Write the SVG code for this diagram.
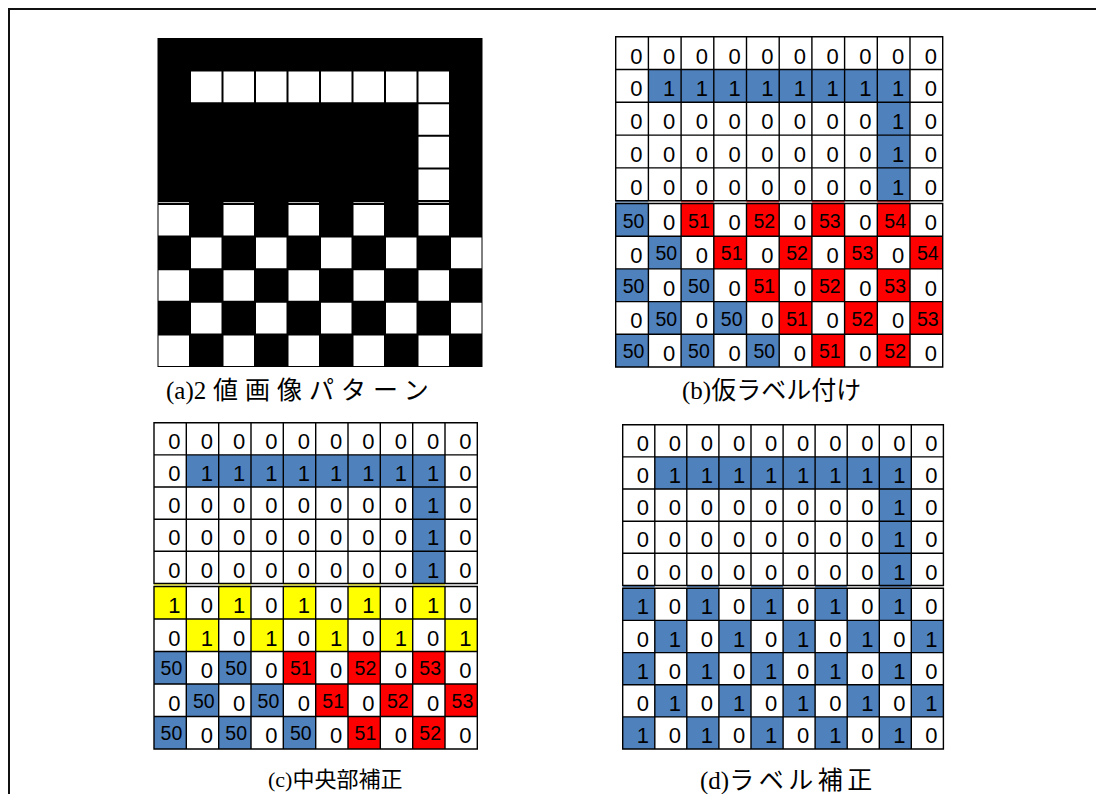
<svg xmlns="http://www.w3.org/2000/svg" width="1096" height="794" viewBox="0 0 1096 794">
<style>
.g{fill:none;stroke:#000;stroke-width:1.4;stroke-linecap:square}
.d{font-family:"Liberation Sans",Arial,sans-serif;font-size:22px;text-anchor:end;fill:#000}
.t{font-size:19.5px}
.b{fill:#4F81BD}.r{fill:#FF0000}.y{fill:#FFFF00}.w{fill:#fff}
.cap{font-family:"Liberation Serif","Noto Sans CJK JP",serif;font-size:25px;fill:#000}
</style>
<rect width="1096" height="794" fill="#fff"/>
<path d="M9 794V9H1096" fill="none" stroke="#111" stroke-width="2"/>

<g id="panel-a">
<rect x="157.5" y="38" width="325" height="329" fill="#000"/>
<path class="w" d="M191 71.6h30.5v30.6h-30.5zM223.5 71.6h30.5v30.6h-30.5zM256 71.6h30.5v30.6h-30.5zM288.5 71.6h30.5v30.6h-30.5zM321 71.6h30.5v30.6h-30.5zM353.5 71.6h30.5v30.6h-30.5zM386 71.6h30.5v30.6h-30.5zM418.5 71.6h30.5v30.6h-30.5z
M418.5 104.2h30.5v30.6h-30.5zM418.5 136.8h30.5v30.6h-30.5zM418.5 169.4h30.5v30.6h-30.5z
M158.5 205h30.5v30.6h-30.5zM223.5 205h30.5v30.6h-30.5zM288.5 205h30.5v30.6h-30.5zM353.5 205h30.5v30.6h-30.5zM418.5 205h30.5v30.6h-30.5z
M191 237.6h30.5v30.6h-30.5zM256 237.6h30.5v30.6h-30.5zM321 237.6h30.5v30.6h-30.5zM386 237.6h30.5v30.6h-30.5zM451 237.6h30.5v30.6h-30.5z
M158.5 270.2h30.5v30.6h-30.5zM223.5 270.2h30.5v30.6h-30.5zM288.5 270.2h30.5v30.6h-30.5zM353.5 270.2h30.5v30.6h-30.5zM418.5 270.2h30.5v30.6h-30.5z
M191 302.8h30.5v30.6h-30.5zM256 302.8h30.5v30.6h-30.5zM321 302.8h30.5v30.6h-30.5zM386 302.8h30.5v30.6h-30.5zM451 302.8h30.5v30.6h-30.5z
M158.5 335.4h30.5v30.6h-30.5zM223.5 335.4h30.5v30.6h-30.5zM288.5 335.4h30.5v30.6h-30.5zM353.5 335.4h30.5v30.6h-30.5zM418.5 335.4h30.5v30.6h-30.5z"/>
<path fill="#bbb" d="M158.5 202h30.5v1h-30.5zM223.5 202h30.5v1h-30.5zM288.5 202h30.5v1h-30.5zM353.5 202h30.5v1h-30.5zM418.5 202h30.5v1h-30.5z"/>
</g>

<g id="panel-b">
<rect x="615.7" y="36.7" width="327" height="330.3" fill="#fff"/>
<rect class="b" x="648.4" y="69.5" width="261.6" height="32.8"/>
<rect class="b" x="877.3" y="102.3" width="32.7" height="98.4"/>
<path class="b" d="M615.7 203.5h32.7v32.7h-32.7zM648.4 236.2h32.7v32.7h-32.7zM615.7 268.9h32.7v32.7h-32.7zM681.1 268.9h32.7v32.7h-32.7zM648.4 301.6h32.7v32.7h-32.7zM713.8 301.6h32.7v32.7h-32.7zM615.7 334.3h32.7v32.7h-32.7zM681.1 334.3h32.7v32.7h-32.7zM746.5 334.3h32.7v32.7h-32.7zM615.7 201.3h32.7v1.3h-32.7z"/>
<path class="r" d="M681.1 203.5h32.7v32.7h-32.7zM746.5 203.5h32.7v32.7h-32.7zM811.9 203.5h32.7v32.7h-32.7zM877.3 203.5h32.7v32.7h-32.7z
M713.8 236.2h32.7v32.7h-32.7zM779.2 236.2h32.7v32.7h-32.7zM844.6 236.2h32.7v32.7h-32.7zM910 236.2h32.7v32.7h-32.7z
M746.5 268.9h32.7v32.7h-32.7zM811.9 268.9h32.7v32.7h-32.7zM877.3 268.9h32.7v32.7h-32.7z
M779.2 301.6h32.7v32.7h-32.7zM844.6 301.6h32.7v32.7h-32.7zM910 301.6h32.7v32.7h-32.7z
M811.9 334.3h32.7v32.7h-32.7zM877.3 334.3h32.7v32.7h-32.7z
M681.1 201.3h32.7v1.3h-32.7zM746.5 201.3h32.7v1.3h-32.7zM811.9 201.3h32.7v1.3h-32.7zM877.3 201.3h32.7v1.3h-32.7z"/>
<path class="g" d="M615.7 36.7V200.7M648.4 36.7V200.7M681.1 36.7V200.7M713.8 36.7V200.7M746.5 36.7V200.7M779.2 36.7V200.7M811.9 36.7V200.7M844.6 36.7V200.7M877.3 36.7V200.7M910 36.7V200.7M942.7 36.7V200.7
M615.7 203.5V367M648.4 203.5V367M681.1 203.5V367M713.8 203.5V367M746.5 203.5V367M779.2 203.5V367M811.9 203.5V367M844.6 203.5V367M877.3 203.5V367M910 203.5V367M942.7 203.5V367
M615.7 36.7H942.7M615.7 69.5H942.7M615.7 102.3H942.7M615.7 135.1H942.7M615.7 167.9H942.7M615.7 200.7H942.7M615.7 203.5H942.7M615.7 236.2H942.7M615.7 268.9H942.7M615.7 301.6H942.7M615.7 334.3H942.7M615.7 367H942.7"/>
<text class="d" x="642.6 675.3 708 740.7 773.4 806.1 838.8 871.5 904.2 936.9" y="63.5">0000000000</text>
<text class="d" x="642.6 675.3 708 740.7 773.4 806.1 838.8 871.5 904.2 936.9" y="96.3">0111111110</text>
<text class="d" x="642.6 675.3 708 740.7 773.4 806.1 838.8 871.5 904.2 936.9" y="129.1">0000000010</text>
<text class="d" x="642.6 675.3 708 740.7 773.4 806.1 838.8 871.5 904.2 936.9" y="161.9">0000000010</text>
<text class="d" x="642.6 675.3 708 740.7 773.4 806.1 838.8 871.5 904.2 936.9" y="194.7">0000000010</text>
<text class="d"><tspan class="t" x="644.4" y="227.5">50</tspan><tspan x="675.3" y="230.2">0</tspan><tspan class="t" x="709.8" y="227.5">51</tspan><tspan x="740.7" y="230.2">0</tspan><tspan class="t" x="775.2" y="227.5">52</tspan><tspan x="806.1" y="230.2">0</tspan><tspan class="t" x="840.6" y="227.5">53</tspan><tspan x="871.5" y="230.2">0</tspan><tspan class="t" x="906" y="227.5">54</tspan><tspan x="936.9" y="230.2">0</tspan></text>
<text class="d"><tspan x="642.6" y="262.9">0</tspan><tspan class="t" x="677.1" y="260.2">50</tspan><tspan x="708" y="262.9">0</tspan><tspan class="t" x="742.5" y="260.2">51</tspan><tspan x="773.4" y="262.9">0</tspan><tspan class="t" x="807.9" y="260.2">52</tspan><tspan x="838.8" y="262.9">0</tspan><tspan class="t" x="873.3" y="260.2">53</tspan><tspan x="904.2" y="262.9">0</tspan><tspan class="t" x="938.7" y="260.2">54</tspan></text>
<text class="d"><tspan class="t" x="644.4" y="292.9">50</tspan><tspan x="675.3" y="295.6">0</tspan><tspan class="t" x="709.8" y="292.9">50</tspan><tspan x="740.7" y="295.6">0</tspan><tspan class="t" x="775.2" y="292.9">51</tspan><tspan x="806.1" y="295.6">0</tspan><tspan class="t" x="840.6" y="292.9">52</tspan><tspan x="871.5" y="295.6">0</tspan><tspan class="t" x="906" y="292.9">53</tspan><tspan x="936.9" y="295.6">0</tspan></text>
<text class="d"><tspan x="642.6" y="328.3">0</tspan><tspan class="t" x="677.1" y="325.6">50</tspan><tspan x="708" y="328.3">0</tspan><tspan class="t" x="742.5" y="325.6">50</tspan><tspan x="773.4" y="328.3">0</tspan><tspan class="t" x="807.9" y="325.6">51</tspan><tspan x="838.8" y="328.3">0</tspan><tspan class="t" x="873.3" y="325.6">52</tspan><tspan x="904.2" y="328.3">0</tspan><tspan class="t" x="938.7" y="325.6">53</tspan></text>
<text class="d"><tspan class="t" x="644.4" y="358.3">50</tspan><tspan x="675.3" y="361">0</tspan><tspan class="t" x="709.8" y="358.3">50</tspan><tspan x="740.7" y="361">0</tspan><tspan class="t" x="775.2" y="358.3">50</tspan><tspan x="806.1" y="361">0</tspan><tspan class="t" x="840.6" y="358.3">51</tspan><tspan x="871.5" y="361">0</tspan><tspan class="t" x="906" y="358.3">52</tspan><tspan x="936.9" y="361">0</tspan></text>
</g>

<g id="panel-c">
<rect x="154" y="422.7" width="323.3" height="326.3" fill="#fff"/>
<rect class="b" x="186.3" y="454.9" width="258.7" height="32.1"/>
<rect class="b" x="412.7" y="487" width="32.3" height="96.5"/>
<path class="y" d="M154 586.5h32.4v32.5h-32.4zM218.7 586.5h32.4v32.5h-32.4zM283.3 586.5h32.4v32.5h-32.4zM348 586.5h32.4v32.5h-32.4zM412.7 586.5h32.4v32.5h-32.4z
M186.3 619h32.4v32.5h-32.4zM251 619h32.4v32.5h-32.4zM315.7 619h32.4v32.5h-32.4zM380.3 619h32.4v32.5h-32.4zM445 619h32.4v32.5h-32.4z
M154 584.2h32.4v1.3h-32.4zM218.7 584.2h32.4v1.3h-32.4zM283.3 584.2h32.4v1.3h-32.4zM348 584.2h32.4v1.3h-32.4zM412.7 584.2h32.4v1.3h-32.4z"/>
<path class="b" d="M154 651.5h32.4v32.5h-32.4zM218.7 651.5h32.4v32.5h-32.4zM186.3 684h32.4v32.5h-32.4zM251 684h32.4v32.5h-32.4zM154 716.5h32.4v32.5h-32.4zM218.7 716.5h32.4v32.5h-32.4zM283.3 716.5h32.4v32.5h-32.4z"/>
<path class="r" d="M283.3 651.5h32.4v32.5h-32.4zM348 651.5h32.4v32.5h-32.4zM412.7 651.5h32.4v32.5h-32.4zM315.7 684h32.4v32.5h-32.4zM380.3 684h32.4v32.5h-32.4zM445 684h32.4v32.5h-32.4zM348 716.5h32.4v32.5h-32.4zM412.7 716.5h32.4v32.5h-32.4z"/>
<path class="g" d="M154 422.7V583.5M186.3 422.7V583.5M218.7 422.7V583.5M251 422.7V583.5M283.3 422.7V583.5M315.7 422.7V583.5M348 422.7V583.5M380.3 422.7V583.5M412.7 422.7V583.5M445 422.7V583.5M477.3 422.7V583.5
M154 586.5V749M186.3 586.5V749M218.7 586.5V749M251 586.5V749M283.3 586.5V749M315.7 586.5V749M348 586.5V749M380.3 586.5V749M412.7 586.5V749M445 586.5V749M477.3 586.5V749
M154 422.7H477.3M154 454.9H477.3M154 487H477.3M154 519.2H477.3M154 551.3H477.3M154 583.5H477.3M154 586.5H477.3M154 619H477.3M154 651.5H477.3M154 684H477.3M154 716.5H477.3M154 749H477.3"/>
<text class="d" x="180.5 212.9 245.2 277.5 309.9 342.2 374.5 406.9 439.2 471.5" y="448.9">0000000000</text>
<text class="d" x="180.5 212.9 245.2 277.5 309.9 342.2 374.5 406.9 439.2 471.5" y="481">0111111110</text>
<text class="d" x="180.5 212.9 245.2 277.5 309.9 342.2 374.5 406.9 439.2 471.5" y="513.2">0000000010</text>
<text class="d" x="180.5 212.9 245.2 277.5 309.9 342.2 374.5 406.9 439.2 471.5" y="545.3">0000000010</text>
<text class="d" x="180.5 212.9 245.2 277.5 309.9 342.2 374.5 406.9 439.2 471.5" y="577.5">0000000010</text>
<text class="d" x="180.5 212.9 245.2 277.5 309.9 342.2 374.5 406.9 439.2 471.5" y="613">1010101010</text>
<text class="d" x="180.5 212.9 245.2 277.5 309.9 342.2 374.5 406.9 439.2 471.5" y="645.5">0101010101</text>
<text class="d"><tspan class="t" x="182.3" y="675.3">50</tspan><tspan x="212.9" y="678">0</tspan><tspan class="t" x="247" y="675.3">50</tspan><tspan x="277.5" y="678">0</tspan><tspan class="t" x="311.7" y="675.3">51</tspan><tspan x="342.2" y="678">0</tspan><tspan class="t" x="376.3" y="675.3">52</tspan><tspan x="406.9" y="678">0</tspan><tspan class="t" x="441" y="675.3">53</tspan><tspan x="471.5" y="678">0</tspan></text>
<text class="d"><tspan x="180.5" y="710.5">0</tspan><tspan class="t" x="214.7" y="707.8">50</tspan><tspan x="245.2" y="710.5">0</tspan><tspan class="t" x="279.3" y="707.8">50</tspan><tspan x="309.9" y="710.5">0</tspan><tspan class="t" x="344" y="707.8">51</tspan><tspan x="374.5" y="710.5">0</tspan><tspan class="t" x="408.7" y="707.8">52</tspan><tspan x="439.2" y="710.5">0</tspan><tspan class="t" x="473.3" y="707.8">53</tspan></text>
<text class="d"><tspan class="t" x="182.3" y="740.3">50</tspan><tspan x="212.9" y="743">0</tspan><tspan class="t" x="247" y="740.3">50</tspan><tspan x="277.5" y="743">0</tspan><tspan class="t" x="311.7" y="740.3">50</tspan><tspan x="342.2" y="743">0</tspan><tspan class="t" x="376.3" y="740.3">51</tspan><tspan x="406.9" y="743">0</tspan><tspan class="t" x="441" y="740.3">52</tspan><tspan x="471.5" y="743">0</tspan></text>
</g>

<g id="panel-d">
<rect x="622.7" y="424.7" width="320.7" height="324.3" fill="#fff"/>
<rect class="b" x="654.8" y="456.9" width="256.5" height="32.1"/>
<rect class="b" x="879.3" y="489" width="32" height="96.5"/>
<path class="b" d="M622.7 588.3h32.1v32.2h-32.1zM686.8 588.3h32.1v32.2h-32.1zM751 588.3h32.1v32.2h-32.1zM815.1 588.3h32.1v32.2h-32.1zM879.3 588.3h32.1v32.2h-32.1z
M654.8 620.4h32.1v32.2h-32.1zM718.9 620.4h32.1v32.2h-32.1zM783.1 620.4h32.1v32.2h-32.1zM847.2 620.4h32.1v32.2h-32.1zM911.3 620.4h32.1v32.2h-32.1z
M622.7 652.6h32.1v32.2h-32.1zM686.8 652.6h32.1v32.2h-32.1zM751 652.6h32.1v32.2h-32.1zM815.1 652.6h32.1v32.2h-32.1zM879.3 652.6h32.1v32.2h-32.1z
M654.8 684.7h32.1v32.2h-32.1zM718.9 684.7h32.1v32.2h-32.1zM783.1 684.7h32.1v32.2h-32.1zM847.2 684.7h32.1v32.2h-32.1zM911.3 684.7h32.1v32.2h-32.1z
M622.7 716.9h32.1v32.2h-32.1zM686.8 716.9h32.1v32.2h-32.1zM751 716.9h32.1v32.2h-32.1zM815.1 716.9h32.1v32.2h-32.1zM879.3 716.9h32.1v32.2h-32.1z
M622.7 586.1h32.1v1.3h-32.1zM686.8 586.1h32.1v1.3h-32.1zM751 586.1h32.1v1.3h-32.1zM815.1 586.1h32.1v1.3h-32.1zM879.3 586.1h32.1v1.3h-32.1z"/>
<path class="g" d="M622.7 424.7V585.5M654.8 424.7V585.5M686.8 424.7V585.5M718.9 424.7V585.5M751 424.7V585.5M783.1 424.7V585.5M815.1 424.7V585.5M847.2 424.7V585.5M879.3 424.7V585.5M911.3 424.7V585.5M943.4 424.7V585.5
M622.7 588.3V749M654.8 588.3V749M686.8 588.3V749M718.9 588.3V749M751 588.3V749M783.1 588.3V749M815.1 588.3V749M847.2 588.3V749M879.3 588.3V749M911.3 588.3V749M943.4 588.3V749
M622.7 424.7H943.4M622.7 456.9H943.4M622.7 489H943.4M622.7 521.2H943.4M622.7 553.3H943.4M622.7 585.5H943.4M622.7 588.3H943.4M622.7 620.4H943.4M622.7 652.6H943.4M622.7 684.7H943.4M622.7 716.9H943.4M622.7 749H943.4"/>
<text class="d" x="649 681 713.1 745.2 777.3 809.3 841.4 873.5 905.5 937.6" y="450.9">0000000000</text>
<text class="d" x="649 681 713.1 745.2 777.3 809.3 841.4 873.5 905.5 937.6" y="483">0111111110</text>
<text class="d" x="649 681 713.1 745.2 777.3 809.3 841.4 873.5 905.5 937.6" y="515.2">0000000010</text>
<text class="d" x="649 681 713.1 745.2 777.3 809.3 841.4 873.5 905.5 937.6" y="547.3">0000000010</text>
<text class="d" x="649 681 713.1 745.2 777.3 809.3 841.4 873.5 905.5 937.6" y="579.5">0000000010</text>
<text class="d" x="649 681 713.1 745.2 777.3 809.3 841.4 873.5 905.5 937.6" y="614.4">1010101010</text>
<text class="d" x="649 681 713.1 745.2 777.3 809.3 841.4 873.5 905.5 937.6" y="646.6">0101010101</text>
<text class="d" x="649 681 713.1 745.2 777.3 809.3 841.4 873.5 905.5 937.6" y="678.7">1010101010</text>
<text class="d" x="649 681 713.1 745.2 777.3 809.3 841.4 873.5 905.5 937.6" y="710.9">0101010101</text>
<text class="d" x="649 681 713.1 745.2 777.3 809.3 841.4 873.5 905.5 937.6" y="743">1010101010</text>
</g>

<g id="captions">
<text id="cap-a" class="cap" x="166" y="399">(a)2 <tspan x="213" letter-spacing="7">値画像パターン</tspan></text>
<text id="cap-b" class="cap" x="682" y="399">(b)仮ラベル付け</text>
<text id="cap-c" class="cap" x="268" y="787" style="font-size:22px">(c)中央部補正</text>
<text id="cap-d" class="cap" x="700" y="789">(d)<tspan letter-spacing="4.5">ラベル補正</tspan></text>
</g>
</svg>
